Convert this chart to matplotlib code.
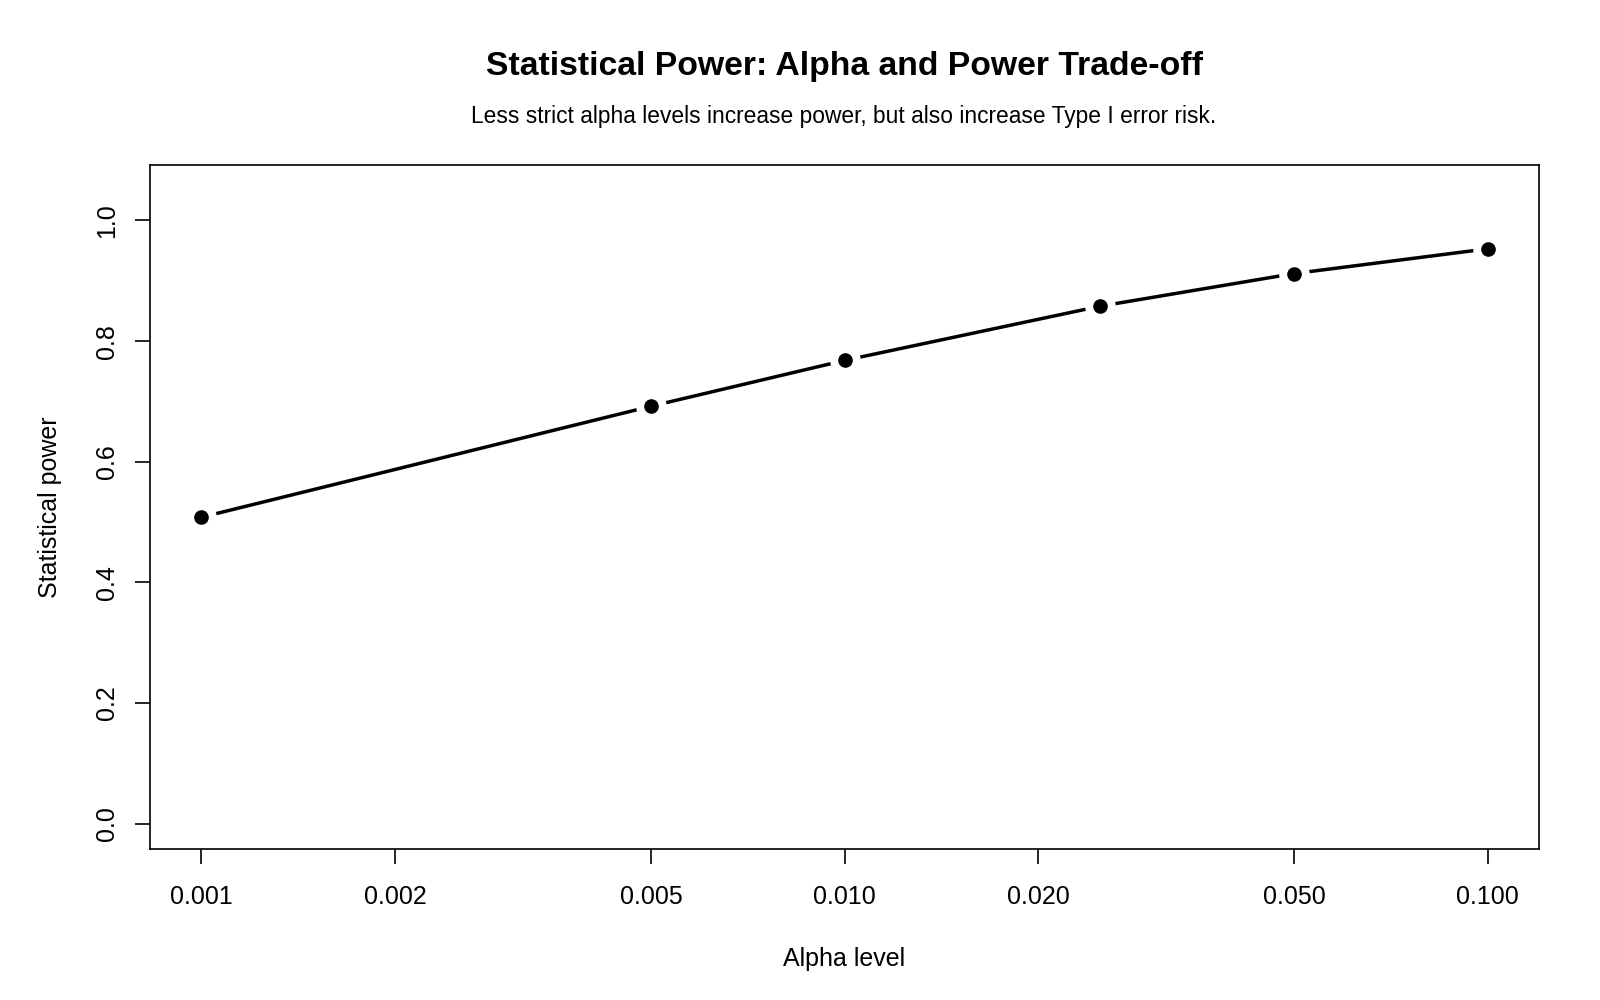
import matplotlib
matplotlib.use("Agg")
import matplotlib.pyplot as plt

plt.rcParams['font.family'] = ['Liberation Sans', 'DejaVu Sans']

# data
alpha = [0.001, 0.005, 0.010, 0.025, 0.050, 0.100]
power = [0.508, 0.692, 0.768, 0.858, 0.912, 0.953]

xticks = [0.001, 0.002, 0.005, 0.010, 0.020, 0.050, 0.100]
xtick_labels = ["0.001", "0.002", "0.005", "0.010", "0.020", "0.050", "0.100"]
yticks = [0.0, 0.2, 0.4, 0.6, 0.8, 1.0]

fig = plt.figure(figsize=(16, 10), dpi=100)
ax = fig.add_axes([150 / 1600, 1 - 849 / 1000, 1389 / 1600, 684 / 1000])

# R type="b": line with gaps around the points
ax.plot(alpha, power, color="black", lw=2.5, zorder=2)
ax.plot(alpha, power, "o", color="white", markersize=21, zorder=3)
ax.plot(alpha, power, "o", color="black", markersize=9.5, zorder=4)

ax.set_xscale("log")
ax.set_xlim(10 ** (-3 - 0.08), 10 ** (-1 + 0.08))
ax.set_ylim(-0.042, 1.092)
ax.minorticks_off()
ax.set_xticks(xticks)
ax.set_xticklabels(xtick_labels)
ax.set_yticks(yticks)
ax.set_yticklabels([f"{v:.1f}" for v in yticks], rotation=90, va="center")

for s in ax.spines.values():
    s.set_linewidth(1.2)
ax.tick_params(axis="both", length=11, width=1.2, labelsize=18, direction="out")
ax.tick_params(axis="x", pad=15)
ax.tick_params(axis="y", pad=11)

ax.set_xlabel("Alpha level", fontsize=18, labelpad=27)
ax.set_ylabel("Statistical power", fontsize=18, labelpad=24)

fig.text(0.5275, 1 - 67 / 1000, "Statistical Power: Alpha and Power Trade-off",
         ha="center", va="center", fontsize=24.3, fontweight="bold")
fig.text(0.5275, 1 - 117 / 1000,
         "Less strict alpha levels increase power, but also increase Type I error risk.",
         ha="center", va="center", fontsize=16.4)

fig.savefig("out.png", dpi=100)
